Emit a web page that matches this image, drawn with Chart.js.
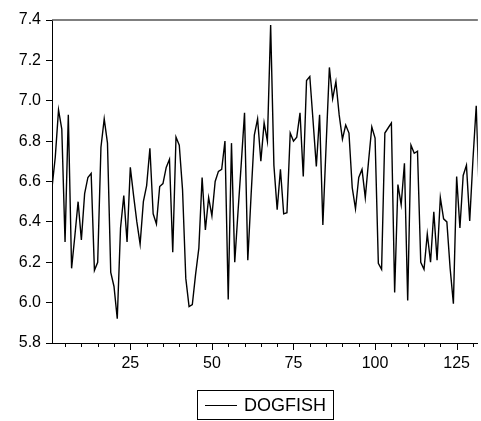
<!DOCTYPE html>
<html>
  <head>
    <title>DOGFISH</title>
    <script src="https://cdn.jsdelivr.net/npm/chart.js"></script>
    <style>
      body {
        margin: 0;
        background: #fff;
        overflow: hidden;
      }
      .wrap {
        position: relative;
        width: 481px;
        height: 421px;
      }
    </style>
  </head>
  <body>
    <div class="wrap">
      <canvas id="dogChart"></canvas>
    </div>

    <script>
      var seriesName = "DOGFISH";
      var dogfish = [
        6.57, 6.72, 6.955, 6.86, 6.30, 6.93, 6.17, 6.33, 6.50, 6.31,
        6.54, 6.62, 6.64, 6.16, 6.20, 6.77, 6.91, 6.79, 6.15, 6.08,
        5.92, 6.37, 6.53, 6.30, 6.67, 6.53, 6.40, 6.29, 6.50, 6.58,
        6.765, 6.44, 6.39, 6.575, 6.59, 6.67, 6.71, 6.25, 6.82, 6.78,
        6.56, 6.12, 5.98, 5.99, 6.14, 6.27, 6.62, 6.36, 6.52, 6.43,
        6.60, 6.65, 6.66, 6.80, 6.015, 6.79, 6.20, 6.45, 6.69, 6.94,
        6.21, 6.53, 6.83, 6.91, 6.70, 6.89, 6.80, 7.375, 6.68, 6.46,
        6.66, 6.44, 6.445, 6.84, 6.80, 6.82, 6.94, 6.625, 7.10, 7.12,
        6.90, 6.675, 6.93, 6.385, 6.78, 7.165, 7.01, 7.095, 6.93, 6.81,
        6.88, 6.84, 6.57, 6.465, 6.62, 6.66, 6.52, 6.70, 6.87, 6.815,
        6.195, 6.165, 6.84, 6.865, 6.89, 6.05, 6.585, 6.485, 6.69, 6.01,
        6.78, 6.74, 6.75, 6.20, 6.165, 6.34, 6.20, 6.45, 6.21, 6.52,
        6.415, 6.40, 6.17, 5.995, 6.625, 6.37, 6.63, 6.68, 6.405, 6.71,
        6.975, 6.50
      ];
      var xLabels = [25, 50, 75, 100, 125];
      var yTicks = [5.8, 6.0, 6.2, 6.4, 6.6, 6.8, 7.0, 7.2, 7.4];

      var points = dogfish.map(function (v, i) {
        return { x: i + 1, y: v };
      });

      // minor ticks every 5 obs, top frame line and the boxed legend
      const axisMarks = {
        id: "axisMarks",
        afterDraw(chart) {
          const c = chart.ctx;
          const x = chart.scales.x;
          const a = chart.chartArea;
          c.save();
          c.strokeStyle = "#000";
          c.lineWidth = 1;
          for (let v = 5; v <= x.max; v += 5) {
            const px = Math.round(x.getPixelForValue(v)) + 0.5;
            const len = v % 25 === 0 ? 7 : 4;
            c.beginPath();
            c.moveTo(px, a.bottom);
            c.lineTo(px, a.bottom + len);
            c.stroke();
          }
          c.strokeStyle = "#555";
          c.lineWidth = 1.5;
          c.beginPath();
          c.moveTo(a.left, a.top);
          c.lineTo(a.right, a.top);
          c.stroke();

          // legend
          c.font = "18px 'Liberation Sans', Arial";
          const tw = c.measureText(seriesName).width;
          const w = Math.round(8 + 32 + 7 + tw + 7);
          const cx = (a.left + a.right) / 2;
          const left = Math.round(cx - w / 2);
          const top = 390;
          c.strokeStyle = "#000";
          c.lineWidth = 1;
          c.strokeRect(left + 0.5, top + 0.5, w, 29);
          c.beginPath();
          c.moveTo(left + 8, top + 15.5);
          c.lineTo(left + 40, top + 15.5);
          c.stroke();
          c.fillStyle = "#000";
          c.textBaseline = "middle";
          c.fillText(seriesName, left + 47, top + 16);
          c.restore();
        },
      };

      const ctx = document.getElementById("dogChart");
      new Chart(ctx, {
        type: "line",
        data: {
          datasets: [
            {
              label: seriesName,
              data: points,
              borderColor: "#000",
              backgroundColor: "#000",
              borderWidth: 1.4,
              pointRadius: 0,
              tension: 0,
            },
          ],
        },
        options: {
          responsive: true,
          maintainAspectRatio: false,
          animation: false,
          layout: { padding: { top: 20, right: 0, bottom: 42, left: 0 } },
          scales: {
            x: {
              type: "linear",
              min: 1,
              max: 131.5,
              afterBuildTicks: function (scale) {
                scale.ticks = xLabels.map((v) => ({ value: v }));
              },
              afterFit: function (scale) {
                scale.height = 36;
              },
              grid: { drawOnChartArea: false, drawTicks: false },
              border: { display: true, color: "#000", width: 1 },
              ticks: {
                padding: 11,
                color: "#000",
                maxRotation: 0,
                autoSkip: false,
                font: { family: "Liberation Sans, Arial", size: 16 },
              },
            },
            y: {
              min: 5.8,
              max: 7.4,
              afterBuildTicks: function (scale) {
                scale.ticks = yTicks.map((v) => ({ value: v }));
              },
              afterFit: function (scale) {
                scale.width = 52;
              },
              grid: {
                drawOnChartArea: false,
                drawTicks: true,
                tickLength: 6,
                tickColor: "#000",
              },
              border: { display: true, color: "#000", width: 1 },
              ticks: {
                padding: 5,
                color: "#000",
                callback: (v) => Number(v).toFixed(1),
                font: { family: "Liberation Sans, Arial", size: 16 },
              },
            },
          },
          plugins: {
            legend: { display: false },
            tooltip: { enabled: false },
          },
        },
        plugins: [axisMarks],
      });
    </script>
  </body>
</html>
